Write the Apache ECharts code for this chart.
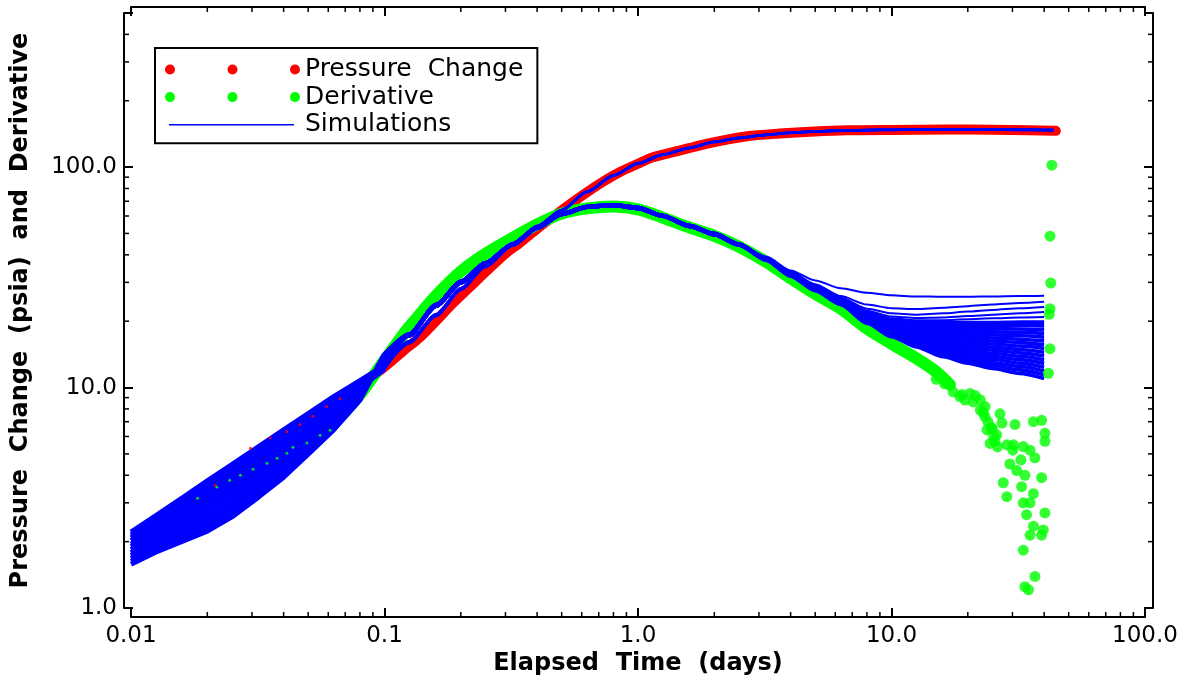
<!DOCTYPE html>
<html><head><meta charset="utf-8">
<script src="https://cdn.jsdelivr.net/npm/echarts@6/dist/echarts.min.js"></script>
<style>html,body{margin:0;padding:0;background:#fff}#chart{width:1189px;height:682px}</style>
</head><body><div id="chart"></div>
<script>
// ---------- tick values ----------
const xMinorTicks = [0.02,0.03,0.04,0.05,0.06,0.07,0.08,0.09,0.2,0.3,0.4,0.5,0.6,0.7,0.8,0.9,2,3,4,5,6,7,8,9,20,30,40,50,60,70,80,90];
const yMinorTicks = [2,3,4,5,6,7,8,9,20,30,40,50,60,70,80,90,200,300,400];

// ---------- measured data ----------
const pressureEarlyTime  = [0.0215, 0.0296, 0.0354, 0.0412, 0.0464, 0.0522, 0.0592, 0.0666];
const pressureEarlyValue = [3.6, 5.3, 5.9, 6.3, 6.8, 7.4, 8.2, 8.9];
const derivEarlyTime  = [0.0183, 0.0218, 0.0245, 0.027, 0.0303, 0.0344, 0.0377, 0.0412, 0.0435, 0.0494, 0.0557, 0.061];
const derivEarlyValue = [3.15, 3.54, 3.8, 4.0, 4.26, 4.54, 4.78, 5.04, 5.36, 5.6, 6.08, 6.4];

const pressureTime  = [0.08, 0.09, 0.1, 0.118, 0.138, 0.16, 0.186, 0.22, 0.254, 0.3, 0.343, 0.4, 0.462, 0.54, 0.63, 0.73, 0.849, 1.0, 1.145, 1.465, 1.758, 1.98, 2.69, 3.63, 5.0, 6.67, 10, 16.5, 25, 35, 44.5];
const pressureValue = [10.3, 11.3, 12.4, 14.6, 16.9, 20.1, 24.1, 29.0, 34.0, 40.5, 45.5, 52.5, 59.5, 68.0, 77.0, 86.0, 95.0, 103.5, 110.8, 119.0, 125.6, 129.5, 138.0, 142.0, 145.0, 146.8, 147.5, 148.0, 147.8, 147.0, 146.0];

const derivTime  = [0.06, 0.07, 0.08, 0.09, 0.1, 0.115, 0.125, 0.138, 0.16, 0.2, 0.25, 0.32, 0.4, 0.5, 0.63, 0.8, 1.0, 1.25, 1.6, 2.0, 2.5, 3.2, 4.0, 5.0, 6.3, 8.0, 10, 12.5, 15, 17];
const derivValue = [6.5, 7.8, 9.3, 11.2, 13.3, 16.6, 18.8, 21.5, 26.2, 33.6, 40.4, 47.7, 55.0, 61.5, 65.0, 66.2, 64.3, 59.0, 53.1, 48.8, 43.6, 37.2, 31.3, 26.6, 22.8, 18.5, 15.8, 13.6, 11.8, 10.3];

const derivScatterTime  = [15.0,16.2,17.5,19.5,21.4,18.6,20.4,22.4,22.4,23.4,23.4,23.8,26.8,24.8,24.5,25.3,25.6,26.2,30.7,36.3,39.1,40.3,40.3,28.5,30.3,33.1,35.2,36.8,29.3,31.2,33.6,39.1,27.6,28.5,32.6,36.3,33.1,35.2,34.1,40.3,36.3,39.7,35.2,39.1,33.1,36.8,33.6,34.7,19.0,21.0,23.0,24.0,25.0,26.0,27.3,30.1,32.4,42.9,42.2,42.5,42.2,41.9,42.2,41.6];
const derivScatterValue = [10.9,10.4,9.56,8.77,9.2,9.1,9.4,8.8,7.9,8.2,7.37,6.42,7.6,6.6,5.58,5.98,5.7,5.38,6.8,7.0,7.1,6.2,5.7,5.5,5.5,5.4,5.2,4.8,4.5,4.2,4.0,3.9,3.7,3.2,3.55,3.3,3.0,3.0,2.65,2.7,2.35,2.26,2.14,2.14,1.83,1.39,1.25,1.21,9.3,8.6,7.7,7.0,6.5,6.1,6.9,5.2,4.7,102,48.6,29.8,22.8,21.5,15.0,11.6];

// ---------- simulations ----------
const simEarlyTime = [0.01, 0.0125, 0.016, 0.02, 0.025, 0.032, 0.04, 0.05, 0.063, 0.08, 0.1];
const simMidTime   = [0.125, 0.16, 0.2, 0.25, 0.32, 0.4, 0.5, 0.63, 0.8, 1.0, 1.25, 1.6, 2.0, 2.5];
const simLatePTime = [3.2, 4, 5, 6.3, 8, 10, 12.5, 16, 20, 25, 32, 40, 43.5];
const simLateDTime = [3.2, 4, 5, 6.3, 8, 10, 12.5, 16, 20, 25, 32, 40];

const simPresEarly = [
  [2.21, 2.62, 3.17, 3.77, 4.47, 5.41, 6.43, 7.62, 9.10, 10.76, 12.6],
  [2.14, 2.53, 3.04, 3.59, 4.25, 5.16, 6.14, 7.33, 8.82, 10.57, 12.5],
  [2.08, 2.45, 2.92, 3.42, 4.05, 4.92, 5.87, 7.06, 8.54, 10.37, 12.4],
  [2.02, 2.37, 2.80, 3.26, 3.85, 4.69, 5.62, 6.79, 8.28, 10.18, 12.3],
  [1.95, 2.28, 2.69, 3.11, 3.66, 4.47, 5.37, 6.53, 8.02, 9.99, 12.1]
];
const simDerivEarly = [
  [1.90, 2.21, 2.58, 2.97, 3.49, 4.26, 5.13, 6.29, 7.77, 9.80, 12.6],
  [1.84, 2.13, 2.47, 2.83, 3.32, 4.06, 4.91, 6.05, 7.53, 9.63, 12.9],
  [1.78, 2.06, 2.37, 2.70, 3.16, 3.87, 4.69, 5.82, 7.29, 9.45, 13.2],
  [1.73, 1.99, 2.28, 2.57, 3.00, 3.69, 4.48, 5.60, 7.07, 9.27, 13.5],
  [1.68, 1.92, 2.18, 2.45, 2.86, 3.52, 4.29, 5.39, 6.85, 9.10, 13.8],
  [1.63, 1.85, 2.09, 2.34, 2.72, 3.36, 4.10, 5.19, 6.63, 8.93, 14.0],
  [1.58, 1.79, 2.01, 2.23, 2.59, 3.20, 3.92, 4.99, 6.43, 8.77, 14.2]
];
const simPresMid = [
  [16.2, 21.5, 28.2, 35.7, 44.7, 54.1, 63.9, 77.5, 91.8, 104.0, 114.0, 122.5, 130.2, 135.9],
  [15.9, 21.1, 27.7, 35.2, 44.2, 53.6, 63.4, 77.0, 91.3, 103.6, 113.6, 122.1, 129.8, 135.5]
];
const simDerivMid = [
  [17.5, 23.8, 30.3, 36.8, 44.8, 53.3, 61.5, 66.3, 67.5, 65.6, 60.3, 54.3, 49.9, 44.8],
  [17.2, 23.4, 29.8, 36.3, 44.3, 52.8, 61.0, 65.8, 67.0, 65.0, 59.8, 53.8, 49.4, 44.3]
];
const simPresLate = [
  [140.3, 143.3, 145.3, 146.6, 147.4, 147.8, 148.0, 148.1, 148.1, 148.0, 147.8, 147.5, 147.4],
  [140.0, 143.0, 145.0, 146.3, 147.1, 147.5, 147.7, 147.8, 147.8, 147.7, 147.5, 147.2, 147.1]
];
const simDerivLate = [
  [39.3, 34.0, 30.6, 28.2, 26.9, 26.2, 25.9, 25.8, 25.8, 25.9, 26.0, 26.1],
  [38.8, 33.4, 29.4, 26.0, 23.8, 22.9, 22.7, 23.0, 23.4, 23.8, 24.2, 24.5],
  [38.6, 33.2, 29.2, 25.6, 22.8, 21.7, 21.4, 21.7, 22.1, 22.5, 22.9, 23.2],
  [38.5, 33.0, 29.0, 25.3, 22.3, 21.0, 20.7, 20.8, 21.1, 21.4, 21.7, 22.0],
  [38.4, 32.9, 28.9, 25.2, 22.0, 20.6, 20.2, 20.2, 20.4, 20.6, 20.8, 20.9],
  [38.5, 33.2, 29.0, 25.2, 21.8, 20.2, 19.8, 19.7, 19.7, 19.7, 19.8, 19.8],
  [38.45, 33.1, 28.9, 25.1, 21.65, 19.97, 19.46, 19.24, 19.15, 19.08, 19.11, 19.04],
  [38.4, 33.0, 28.8, 25.0, 21.49, 19.74, 19.13, 18.79, 18.62, 18.48, 18.44, 18.31],
  [38.35, 33.0, 28.7, 24.9, 21.34, 19.51, 18.81, 18.35, 18.1, 17.9, 17.79, 17.6],
  [38.3, 32.9, 28.6, 24.8, 21.19, 19.29, 18.49, 17.92, 17.6, 17.34, 17.17, 16.93],
  [38.25, 32.8, 28.5, 24.7, 21.04, 19.07, 18.17, 17.5, 17.11, 16.79, 16.57, 16.28],
  [38.2, 32.7, 28.4, 24.6, 20.89, 18.85, 17.86, 17.09, 16.63, 16.26, 15.99, 15.65],
  [38.15, 32.6, 28.3, 24.5, 20.74, 18.64, 17.56, 16.69, 16.17, 15.75, 15.43, 15.05],
  [38.1, 32.6, 28.2, 24.4, 20.6, 18.42, 17.26, 16.3, 15.72, 15.26, 14.89, 14.47],
  [38.1, 32.5, 28.1, 24.3, 20.45, 18.21, 16.97, 15.91, 15.28, 14.78, 14.37, 13.92],
  [38.0, 32.4, 28.0, 24.2, 20.31, 18.0, 16.68, 15.54, 14.86, 14.31, 13.87, 13.38],
  [38.0, 32.3, 27.9, 24.1, 20.16, 17.8, 16.39, 15.17, 14.44, 13.86, 13.38, 12.87],
  [37.9, 32.2, 27.8, 24.0, 20.02, 17.6, 16.11, 14.82, 14.04, 13.43, 12.91, 12.37],
  [37.9, 32.2, 27.7, 23.9, 19.88, 17.4, 15.84, 14.47, 13.65, 13.0, 12.46, 11.9],
  [37.85, 32.1, 27.6, 23.85, 19.74, 17.2, 15.57, 14.13, 13.27, 12.6, 12.03, 11.44],
  [37.8, 32.0, 27.5, 23.8, 19.6, 17.0, 15.3, 13.8, 12.9, 12.2, 11.6, 11.0]
];

// ---------- build ----------
const RED = '#ff0000', GREEN = '#00ff00', BLUE = '#0000ff';
const FONT = 'DejaVu Sans';
function pairs(ts, vs) { return ts.map((t, i) => [t, vs[i]]); }
const lastEarly = simEarlyTime.length - 1;
const simPresRestTime = [simEarlyTime[lastEarly]].concat(simMidTime, simLatePTime);
const simDerivRestTime = [simEarlyTime[lastEarly]].concat(simMidTime, simLateDTime);

function simLine(data, width, smooth) {
  return { name: 'Simulations', type: 'line', symbol: 'none', smooth: smooth, smoothMonotone: 'x', silent: true, z: 3,
    color: BLUE, itemStyle: { color: BLUE }, lineStyle: { color: BLUE, width: width, join: 'round' }, data: data };
}

const series = [];
series.push({ name: 'Pressure Change', type: 'line', data: pairs(pressureTime, pressureValue), symbol: 'none', smooth: 0.3,
  color: RED, itemStyle: { color: RED }, lineStyle: { color: RED, width: 10, cap: 'round', join: 'round' }, z: 2, silent: true });
series.push({ name: 'Derivative', type: 'line', data: pairs(derivTime, derivValue), symbol: 'none', smooth: 0.3,
  color: GREEN, itemStyle: { color: GREEN }, lineStyle: { color: GREEN, width: 12, cap: 'round', join: 'round' }, z: 2, silent: true });

// early (wellbore-storage) part of every simulation: dense band
simPresEarly.concat(simDerivEarly).forEach(e => series.push(simLine(pairs(simEarlyTime, e), 5, false)));
// pressure simulations after 0.1 day
simPresEarly.forEach((e, i) => {
  series.push(simLine(pairs(simPresRestTime, [e[lastEarly]].concat(simPresMid[i % 2], simPresLate[i % 2])), 2.5, 0.25));
});
// derivative simulations after 0.1 day
simDerivLate.forEach((l, j) => {
  const e = simDerivEarly[j % simDerivEarly.length];
  series.push(simLine(pairs(simDerivRestTime, [e[lastEarly]].concat(simDerivMid[j % 2], l)), j < 5 ? 2 : 3.6, 0.25));
});
series.push({ name: 'Pressure Change', type: 'scatter', data: pairs(pressureEarlyTime, pressureEarlyValue), symbolSize: 3,
  itemStyle: { color: RED }, z: 4, silent: true });
series.push({ name: 'Derivative', type: 'scatter', data: pairs(derivEarlyTime, derivEarlyValue), symbolSize: 3,
  itemStyle: { color: GREEN }, z: 4, silent: true });
series.push({ name: 'Derivative', type: 'scatter', data: pairs(derivScatterTime, derivScatterValue), symbolSize: 11,
  itemStyle: { color: GREEN }, z: 4, silent: true });

// minor ticks drawn at the library's log positions
const tickData = xMinorTicks.map(v => [v, 1, 0]).concat(yMinorTicks.map(v => [0.01, v, 1]));
series.push({ name: 'minorTicks', type: 'custom', silent: true, z: 6, clip: false, data: tickData,
  renderItem: function (params, api) {
    const cs = params.coordSys;
    const pt = api.coord([api.value(0), api.value(1)]);
    const st = { stroke: '#000', lineWidth: 1.5 };
    if (api.value(2) === 0) {
      const yb = cs.y + cs.height + 9, yt = cs.y - 6;
      return { type: 'group', children: [
        { type: 'line', shape: { x1: pt[0], y1: yb, x2: pt[0], y2: yb - 5 }, style: st },
        { type: 'line', shape: { x1: pt[0], y1: yt, x2: pt[0], y2: yt + 5 }, style: st }
      ] };
    }
    const xl = cs.x - 7, xr = cs.x + cs.width + 8;
    return { type: 'group', children: [
      { type: 'line', shape: { x1: xl, y1: pt[1], x2: xl + 5, y2: pt[1] }, style: st },
      { type: 'line', shape: { x1: xr, y1: pt[1], x2: xr - 5, y2: pt[1] }, style: st }
    ] };
  }
});

const dotsIcon = 'path://M0,5A5,5 0 1 1 10,5A5,5 0 1 1 0,5Z M62.5,5A5,5 0 1 1 72.5,5A5,5 0 1 1 62.5,5Z M125,5A5,5 0 1 1 135,5A5,5 0 1 1 125,5Z';
const lineIcon = 'path://M0,0L0,0M135,10L135,10M4,4.3L129,4.3L129,5.7L4,5.7Z';

const axisBase = {
  type: 'log', logBase: 10, splitLine: { show: false }, minorTick: { show: false }, minorSplitLine: { show: false },
  axisLine: { show: true, onZero: false, lineStyle: { color: '#000', width: 2 } },
  axisTick: { show: true, inside: true, length: 9, lineStyle: { color: '#000', width: 2 } }
};
const nameStyle = { fontFamily: FONT, fontWeight: 'bold', fontSize: 24, color: '#000' };

const option = {
  animation: false,
  backgroundColor: '#fff',
  grid: { left: 131, right: 44, top: 13, bottom: 74, containLabel: false, outerBoundsMode: 'none' },
  legend: {
    left: 155, top: 48, orient: 'vertical', align: 'left', selectedMode: false,
    itemWidth: 135, itemHeight: 10, itemGap: 2.6,
    padding: [9, 14, 6, 10], backgroundColor: '#fff', borderColor: '#000', borderWidth: 2, borderRadius: 0,
    itemStyle: { borderWidth: 0 },
    textStyle: { fontFamily: FONT, fontSize: 25, color: '#000' },
    formatter: n => (n === 'Pressure Change' ? 'Pressure  Change' : n),
    data: [
      { name: 'Pressure Change', icon: dotsIcon },
      { name: 'Derivative', icon: dotsIcon },
      { name: 'Simulations', icon: lineIcon }
    ]
  },
  xAxis: [
    Object.assign({}, axisBase, { position: 'bottom', offset: 9, min: 0.01, max: 100,
      axisLabel: { show: true, margin: 8, fontFamily: FONT, fontSize: 23, color: '#000',
        formatter: v => (v < 1 ? String(v) : v.toFixed(1)) },
      name: 'Elapsed  Time  (days)', nameLocation: 'middle', nameGap: 35, nameMoveOverlap: false, nameTextStyle: nameStyle }),
    Object.assign({}, axisBase, { position: 'top', offset: 6, min: 0.01, max: 100, axisLabel: { show: false } })
  ],
  yAxis: [
    Object.assign({}, axisBase, { position: 'left', offset: 7, min: 1, max: 500,
      axisLabel: { show: true, margin: 7, fontFamily: FONT, fontSize: 23, color: '#000',
        formatter: v => (v > 150 ? '' : v.toFixed(1)) },
      name: 'Pressure  Change  (psia)  and  Derivative', nameLocation: 'middle', nameGap: 91, nameRotate: 90,
      nameMoveOverlap: false, nameTextStyle: nameStyle }),
    Object.assign({}, axisBase, { position: 'right', offset: 8, min: 1, max: 500, axisLabel: { show: false } })
  ],
  series: series
};
const chart = echarts.init(document.getElementById('chart'), null, { renderer: 'canvas' });
chart.setOption(option);
</script></body></html>
